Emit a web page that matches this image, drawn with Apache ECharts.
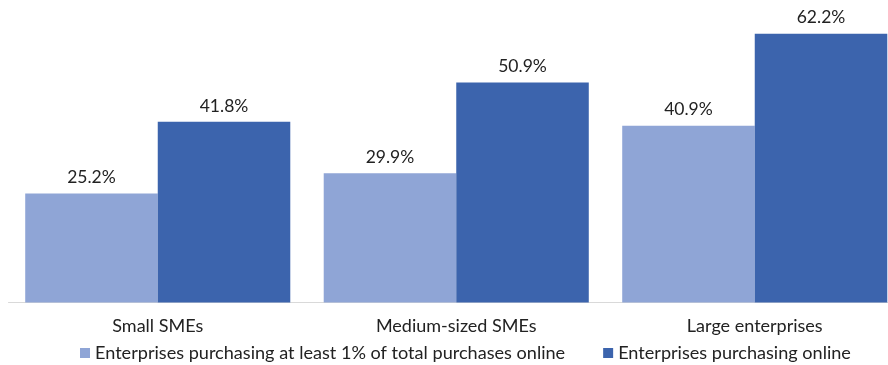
<!DOCTYPE html>
<html><head><meta charset="utf-8">
<script src="https://cdn.jsdelivr.net/npm/echarts@6/dist/echarts.min.js"></script>
<style>html,body{margin:0;padding:0;background:#fff;overflow:hidden;width:888px;height:365px}#c{width:904px;height:365px}</style>
</head><body><div id="c"></div>
<script>
var categories = ["Small SMEs", "Medium-sized SMEs", "Large enterprises"];
var seriesNames = ["Enterprises purchasing at least 1% of total purchases online", "Enterprises purchasing online"];
var atLeast1pct = [25.2, 29.9, 40.9];
var purchasingOnline = [41.8, 50.9, 62.2];

var chart = echarts.init(document.getElementById('c'));
var font = 'Lato, "Open Sans", sans-serif';
var lbl = {show: true, position: 'top', distance: 7, formatter: function(p){return p.value.toFixed(1) + '%';}, color: '#222', fontSize: 17.5, fontFamily: font};
chart.setOption({
  animation: false,
  grid: {left: 8.5, right: 0, top: 0, bottom: 62.5},
  xAxis: {type: 'category', data: categories,
    axisLine: {lineStyle: {color: '#d9d9d9', width: 1}},
    axisTick: {show: false},
    axisLabel: {color: '#222', fontSize: 18, fontFamily: font, margin: 15}},
  yAxis: {type: 'value', min: 0, max: 70, show: false, splitLine: {show: false}},
  legend: {left: 80, top: 344, itemWidth: 10, itemHeight: 10, itemGap: 38, padding: 0,
    textStyle: {color: '#222', fontSize: 18.1, fontFamily: font},
    icon: 'rect', data: seriesNames},
  series: [
    {name: seriesNames[0], type: 'bar', data: atLeast1pct, barGap: '0%', barCategoryGap: '11.2%', itemStyle: {color: '#8FA5D6'}, label: lbl},
    {name: seriesNames[1], type: 'bar', data: purchasingOnline, barGap: '0%', barCategoryGap: '11.2%', itemStyle: {color: '#3C64AD'}, label: lbl}
  ]
});
</script></body></html>
